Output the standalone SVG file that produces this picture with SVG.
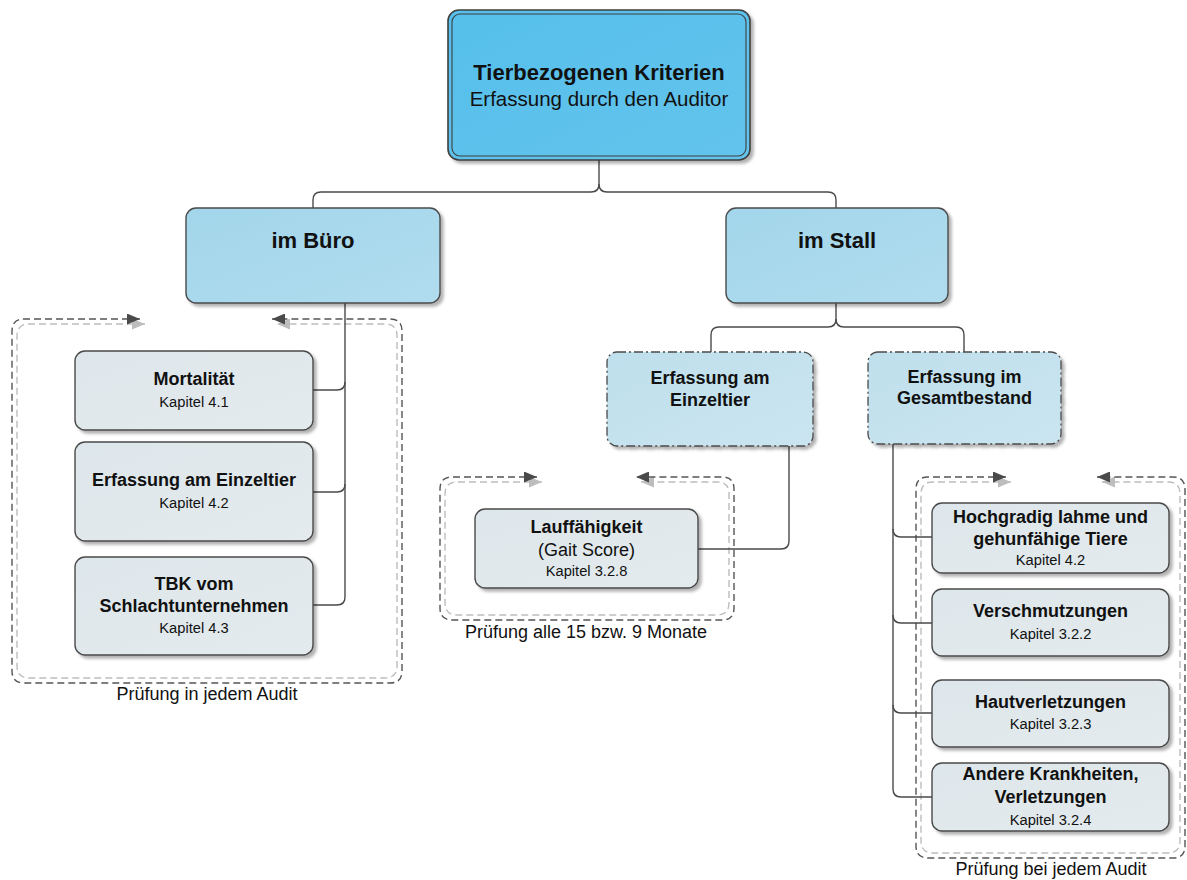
<svg xmlns="http://www.w3.org/2000/svg" width="1187" height="880" viewBox="0 0 1187 880">
<defs>
<filter id="sh" x="-10%" y="-10%" width="130%" height="130%">
<feDropShadow dx="3" dy="3" stdDeviation="1.5" flood-color="#000" flood-opacity="0.3"/>
</filter>
<linearGradient id="gTop" x1="0" y1="0" x2="1" y2="1">
<stop offset="0" stop-color="#55BFEB"/>
<stop offset="1" stop-color="#63C4EC"/>
</linearGradient>
<linearGradient id="gMid" x1="0" y1="0" x2="1" y2="1">
<stop offset="0" stop-color="#A3D6EB"/>
<stop offset="1" stop-color="#B0DCEE"/>
</linearGradient>
<linearGradient id="gSub" x1="0" y1="0" x2="1" y2="1">
<stop offset="0" stop-color="#BFDFEC"/>
<stop offset="1" stop-color="#CAE5F0"/>
</linearGradient>
<linearGradient id="gLeaf" x1="0" y1="0" x2="1" y2="1">
<stop offset="0" stop-color="#DDE6EA"/>
<stop offset="1" stop-color="#E4EBEE"/>
</linearGradient>
<marker id="aD" viewBox="0 0 13 11" refX="13" refY="5.5" markerWidth="13" markerHeight="11" markerUnits="userSpaceOnUse" orient="auto-start-reverse">
<path d="M0,0 L13,5.5 L0,11 z" fill="#4A4A4A"/>
</marker>
<marker id="aL" viewBox="0 0 13 11" refX="13" refY="5.5" markerWidth="13" markerHeight="11" markerUnits="userSpaceOnUse" orient="auto-start-reverse">
<path d="M0,0 L13,5.5 L0,11 z" fill="#BDBDBD"/>
</marker>
</defs>
<style>
text{font-family:"Liberation Sans",Arial,sans-serif;fill:#111;text-anchor:middle}
.b{font-weight:bold}
.t22{font-size:22px}
.t20{font-size:20.5px}
.t18{font-size:18px}
.t15{font-size:14.7px}
.box{stroke:#4A4A4A;stroke-width:1.4}
.dd{stroke:#4A4A4A;stroke-width:1.3;stroke-dasharray:9,3,2,3}
.conn{fill:none;stroke:#4A4A4A;stroke-width:1.4}
.grpD{fill:none;stroke:#555;stroke-width:1.4;stroke-dasharray:7,4;marker-start:url(#aD);marker-end:url(#aD)}
.grpL{fill:none;stroke:#BDBDBD;stroke-width:1.4;stroke-dasharray:7,4;marker-start:url(#aL);marker-end:url(#aL)}
.leaf{fill:url(#gLeaf)}
</style>

<g id="groups">
<g id="group-buero">
<path class="grpL" d="M145,324 H29 Q17,324 17,336 V666 Q17,678 29,678 H385 Q397,678 397,666 V336 Q397,324 385,324 H277"/>
<path class="grpD" d="M140,319 H24 Q12,319 12,331 V671 Q12,683 24,683 H390 Q402,683 402,671 V331 Q402,319 390,319 H272"/>
<text class="t18" x="207" y="700">Prüfung in jedem Audit</text>
</g>
<g id="group-einzeltier">
<path class="grpL" d="M542,482 H457 Q445,482 445,494 V603 Q445,615 457,615 H717 Q729,615 729,603 V494 Q729,482 717,482 H641"/>
<path class="grpD" d="M537,477 H452 Q440,477 440,489 V608 Q440,620 452,620 H722 Q734,620 734,608 V489 Q734,477 722,477 H636"/>
<text class="t18" x="586" y="638">Prüfung alle 15 bzw. 9 Monate</text>
</g>
<g id="group-gesamt">
<path class="grpL" d="M1011,482 H933 Q921,482 921,494 V841 Q921,853 933,853 H1168 Q1180,853 1180,841 V494 Q1180,482 1168,482 H1102"/>
<path class="grpD" d="M1006,477 H928 Q916,477 916,489 V846 Q916,858 928,858 H1173 Q1185,858 1185,846 V489 Q1185,477 1173,477 H1097"/>
<text class="t18" x="1051" y="875">Prüfung bei jedem Audit</text>
</g>
</g>

<g id="connectors">
<path class="conn" d="M599,160 V184 Q599,192 591,192 H321 Q313,192 313,200 V208"/>
<path class="conn" d="M599,184 Q599,192 607,192 H828 Q836,192 836,200 V208"/>
<path class="conn" d="M345,303 V597 Q345,605 337,605 H313"/>
<path class="conn" d="M345,382 Q345,390 337,390 H313"/>
<path class="conn" d="M345,484 Q345,492 337,492 H313"/>
<path class="conn" d="M836,303 V319 Q836,327 828,327 H719 Q711,327 711,335 V352"/>
<path class="conn" d="M836,319 Q836,327 844,327 H956 Q964,327 964,335 V352"/>
<path class="conn" d="M789,446 V541 Q789,549 781,549 H698"/>
<path class="conn" d="M893,444 V789 Q893,797 901,797 H932"/>
<path class="conn" d="M893,529 Q893,537 901,537 H932"/>
<path class="conn" d="M893,615 Q893,623 901,623 H932"/>
<path class="conn" d="M893,705 Q893,713 901,713 H932"/>
</g>

<g id="node-root">
<rect x="448" y="10" width="302" height="150" rx="11" fill="url(#gTop)" stroke="#3F3F3F" stroke-width="1.6" filter="url(#sh)"/>
<rect x="452" y="14" width="294" height="142" rx="8" fill="none" stroke="#3F3F3F" stroke-width="1.1"/>
<text class="b t22" x="599" y="80">Tierbezogenen Kriterien</text>
<text class="t20" x="599" y="106">Erfassung durch den Auditor</text>
</g>

<g id="node-buero">
<rect class="box" x="186" y="208" width="254" height="95" rx="10" fill="url(#gMid)" filter="url(#sh)"/>
<text class="b t22" x="313" y="248">im Büro</text>
</g>

<g id="node-stall">
<rect class="box" x="726" y="208" width="222" height="95" rx="10" fill="url(#gMid)" filter="url(#sh)"/>
<text class="b t22" x="837" y="248">im Stall</text>
</g>

<g id="node-mortalitaet">
<rect class="box leaf" x="75" y="351" width="238" height="79" rx="10" filter="url(#sh)"/>
<text class="b t18" x="194" y="385">Mortalität</text>
<text class="t15" x="194" y="407">Kapitel 4.1</text>
</g>

<g id="node-einzeltier-buero">
<rect class="box leaf" x="75" y="442" width="238" height="99" rx="10" filter="url(#sh)"/>
<text class="b t18" x="194" y="486">Erfassung am Einzeltier</text>
<text class="t15" x="194" y="508">Kapitel 4.2</text>
</g>

<g id="node-tbk">
<rect class="box leaf" x="75" y="557" width="238" height="98" rx="10" filter="url(#sh)"/>
<text class="b t18" x="194" y="590">TBK vom</text>
<text class="b t18" x="194" y="612">Schlachtunternehmen</text>
<text class="t15" x="194" y="633">Kapitel 4.3</text>
</g>

<g id="node-einzeltier-stall">
<rect class="dd" x="607" y="352" width="206" height="94" rx="10" fill="url(#gSub)" filter="url(#sh)"/>
<text class="b t18" x="710" y="384">Erfassung am</text>
<text class="b t18" x="710" y="406">Einzeltier</text>
</g>

<g id="node-gesamtbestand">
<rect class="dd" x="868" y="352" width="193" height="92" rx="10" fill="url(#gSub)" filter="url(#sh)"/>
<text class="b t18" x="964.5" y="383">Erfassung im</text>
<text class="b t18" x="964.5" y="404">Gesamtbestand</text>
</g>

<g id="node-lauffaehigkeit">
<rect class="box leaf" x="475" y="509" width="223" height="79" rx="10" filter="url(#sh)"/>
<text class="b t18" x="586.5" y="533">Lauffähigkeit</text>
<text class="t18" x="586.5" y="556">(Gait Score)</text>
<text class="t15" x="586.5" y="576">Kapitel 3.2.8</text>
</g>

<g id="node-lahme">
<rect class="box leaf" x="932" y="503" width="237" height="70" rx="10" filter="url(#sh)"/>
<text class="b t18" x="1050.5" y="523">Hochgradig lahme und</text>
<text class="b t18" x="1050.5" y="545">gehunfähige Tiere</text>
<text class="t15" x="1050.5" y="565">Kapitel 4.2</text>
</g>

<g id="node-verschmutzungen">
<rect class="box leaf" x="932" y="589" width="237" height="67" rx="10" filter="url(#sh)"/>
<text class="b t18" x="1050.5" y="617">Verschmutzungen</text>
<text class="t15" x="1050.5" y="639">Kapitel 3.2.2</text>
</g>

<g id="node-hautverletzungen">
<rect class="box leaf" x="932" y="680" width="237" height="67" rx="10" filter="url(#sh)"/>
<text class="b t18" x="1050.5" y="708">Hautverletzungen</text>
<text class="t15" x="1050.5" y="729">Kapitel 3.2.3</text>
</g>

<g id="node-andere">
<rect class="box leaf" x="932" y="763" width="237" height="68" rx="10" filter="url(#sh)"/>
<text class="b t18" x="1050.5" y="780">Andere Krankheiten,</text>
<text class="b t18" x="1050.5" y="803">Verletzungen</text>
<text class="t15" x="1050.5" y="825">Kapitel 3.2.4</text>
</g>
</svg>
